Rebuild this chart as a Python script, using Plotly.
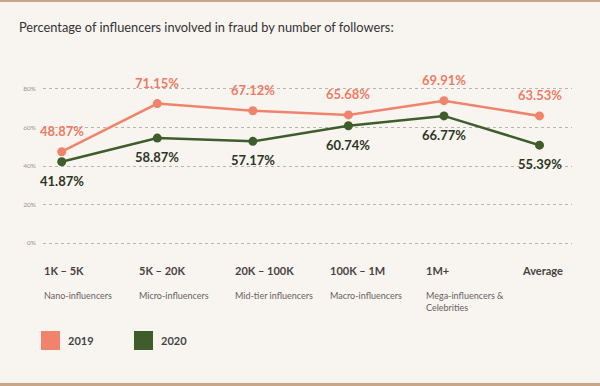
import plotly.graph_objects as go

# ---- data ----
categories = ["1K – 5K", "5K – 20K", "20K – 100K", "100K – 1M", "1M+", "Average"]
subtitles = ["Nano-influencers", "Micro-influencers", "Mid-tier influencers",
             "Macro-influencers", "Mega-influencers &<br>Celebrities", ""]
values_2019 = [47.4, 72.4, 68.7, 66.5, 73.9, 66.0]
values_2020 = [42.2, 54.5, 52.8, 60.9, 66.0, 50.8]
labels_2019 = ["48.87%", "71.15%", "67.12%", "65.68%", "69.91%", "63.53%"]
labels_2020 = ["41.87%", "58.87%", "57.17%", "60.74%", "66.77%", "55.39%"]
y_ticks = [0, 20, 40, 60, 80]

C19 = "#f0836b"
C20 = "#3f5c2b"
BG = "#f8f5f1"
FONT = "Lato"

W, H = 600, 386
ML, MR, MT, MB = 43, 28, 87, 141
plot_h = H - MT - MB
plot_w = W - ML - MR


def py(p):
    return (H - MB - p) / plot_h


def px(p):
    return (p - ML) / plot_w


fig = go.Figure()
fig.add_trace(go.Scatter(x=list(range(len(categories))), y=values_2019, mode="lines+markers",
                         line=dict(color=C19, width=2.5), marker=dict(size=9, color=C19),
                         cliponaxis=False, showlegend=False, hoverinfo="skip"))
fig.add_trace(go.Scatter(x=list(range(len(categories))), y=values_2020, mode="lines+markers",
                         line=dict(color=C20, width=2.5), marker=dict(size=9, color=C20),
                         cliponaxis=False, showlegend=False, hoverinfo="skip"))

ann = []
for i, (v, t) in enumerate(zip(values_2019, labels_2019)):
    ann.append(dict(x=i, y=v, xref="x", yref="y", text=t, showarrow=False,
                    yshift=21, font=dict(family=FONT, size=13, color="#ee7b63", weight="bold")))
for i, (v, t) in enumerate(zip(values_2020, labels_2020)):
    ann.append(dict(x=i, y=v, xref="x", yref="y", text=t, showarrow=False,
                    yshift=-19, font=dict(family=FONT, size=13, color="#2e3524", weight="bold")))
for i, (c, s) in enumerate(zip(categories, subtitles)):
    ann.append(dict(x=i, y=py(270), xref="x", yref="paper", text=c, showarrow=False,
                    xanchor="left", yanchor="middle", xshift=-20,
                    font=dict(family=FONT, size=11, color="#4a4242", weight="bold")))
    if s:
        ann.append(dict(x=i, y=py(288), xref="x", yref="paper", text=s, showarrow=False,
                        xanchor="left", yanchor="top", xshift=-20, align="left",
                        font=dict(family=FONT, size=9, color="#6a6060")))
# legend
shapes = []
for x0, col, lab in [(41, C19, "2019"), (134, C20, "2020")]:
    shapes.append(dict(type="rect", xref="paper", yref="paper",
                       x0=px(x0), x1=px(x0 + 19), y0=py(350), y1=py(331),
                       fillcolor=col, line=dict(width=0)))
    ann.append(dict(x=px(x0 + 25), y=py(340.5), xref="paper", yref="paper",
                    text=lab, showarrow=False, xanchor="left", yanchor="middle",
                    font=dict(family=FONT, size=11, color="#444", weight="bold")))
# borders
for y0, y1 in [(0, 2), (383, 386)]:
    shapes.append(dict(type="rect", xref="paper", yref="paper", x0=px(0), x1=px(W),
                       y0=py(y1), y1=py(y0), fillcolor="#c9a688", line=dict(width=0)))

fig.update_layout(
    width=W, height=H, margin=dict(l=ML, r=MR, t=MT, b=MB),
    paper_bgcolor=BG, plot_bgcolor=BG,
    title=dict(text="Percentage of influencers involved in fraud by number of followers:",
               x=19 / W, xanchor="left", y=1 - 28 / H, yanchor="middle",
               font=dict(family=FONT, size=12.8, color="#333")),
    xaxis=dict(range=[-0.196, 5.34], showticklabels=False, showgrid=False, zeroline=False,
               showline=False, fixedrange=True),
    yaxis=dict(range=[-1, 81], tickvals=y_ticks, ticktext=[f"{t}%" for t in y_ticks],
               showgrid=True, gridcolor="#b9b4ae", griddash="dot", gridwidth=1,
               zeroline=False, showline=False, ticklabelstandoff=6, fixedrange=True,
               tickfont=dict(family=FONT, size=6.5, color="#9b928a")),
    annotations=ann,
    shapes=shapes,
)

fig.write_html("out.html", config={"displayModeBar": False},
               post_script="document.body.style.margin='0';document.body.style.overflow='hidden';")
